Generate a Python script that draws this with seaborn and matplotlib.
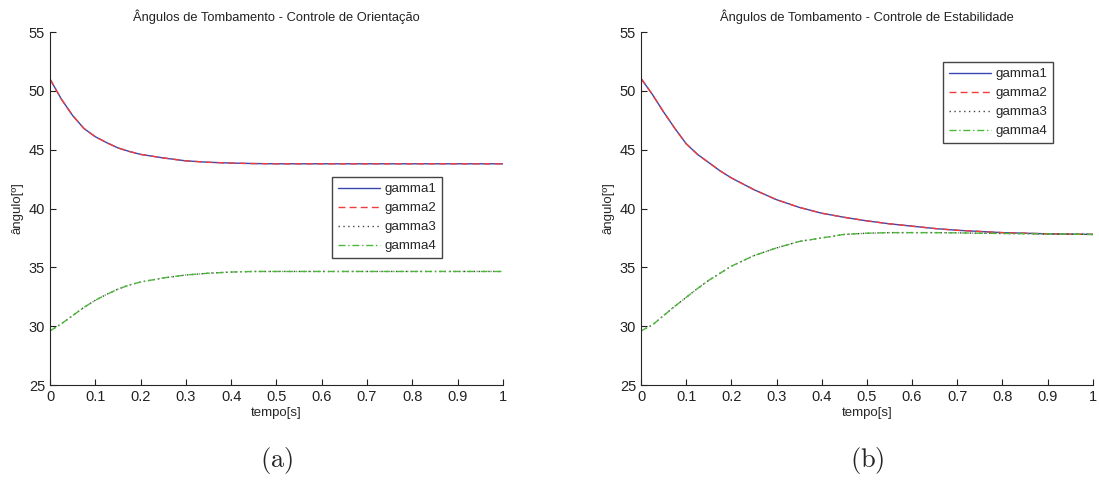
# Ângulos de tombamento - controle de orientação x estabilidade
import seaborn as sns
import matplotlib.pyplot as plt

tempo = [0, 0.025, 0.05, 0.075, 0.1, 0.125, 0.15, 0.175, 0.2, 0.25, 0.3,
         0.35, 0.4, 0.45, 0.5, 0.55, 0.6, 0.65, 0.7, 0.75, 0.8, 0.85, 0.9,
         0.95, 1.0]

# (a) controle de orientação
orient_g1 = [51.0, 49.3, 47.9, 46.8, 46.1, 45.6, 45.15, 44.85, 44.6, 44.3, 44.05,
             43.93, 43.86, 43.82, 43.8, 43.8, 43.8, 43.8, 43.8, 43.8, 43.8,
             43.8, 43.8, 43.8, 43.8]
orient_g2 = orient_g1
orient_g4 = [29.6, 30.2, 30.9, 31.6, 32.2, 32.7, 33.15, 33.5, 33.75, 34.1, 34.35,
             34.5, 34.6, 34.65, 34.65, 34.65, 34.65, 34.65, 34.65, 34.65, 34.65,
             34.65, 34.65, 34.65, 34.65]
orient_g3 = orient_g4

# (b) controle de estabilidade
estab_g1 = [51.05, 49.7, 48.2, 46.8, 45.5, 44.6, 43.9, 43.2, 42.6, 41.6, 40.75,
            40.1, 39.6, 39.25, 38.95, 38.7, 38.5, 38.3, 38.15, 38.05, 37.95,
            37.9, 37.85, 37.82, 37.8]
estab_g2 = estab_g1
estab_g4 = [29.6, 30.1, 30.9, 31.7, 32.45, 33.2, 33.9, 34.5, 35.1, 36.0, 36.65,
            37.2, 37.5, 37.8, 37.9, 37.95, 37.95, 37.95, 37.93, 37.9, 37.88,
            37.86, 37.84, 37.82, 37.8]
estab_g3 = estab_g4

titulos = ['Ângulos de Tombamento - Controle de Orientação',
           'Ângulos de Tombamento - Controle de Estabilidade']
legendas = ['gamma1', 'gamma2', 'gamma3', 'gamma4']
subtitulos = ['(a)', '(b)']

sns.set_style('ticks')
plt.rcParams['font.family'] = ['Liberation Sans', 'DejaVu Sans']
plt.rcParams['mathtext.fontset'] = 'cm'

fig = plt.figure(figsize=(10.99, 4.82), dpi=100)
ax1 = fig.add_axes([0.0455, 0.2012, 0.412, 0.7324])
ax2 = fig.add_axes([0.5833, 0.2012, 0.411, 0.7324])

estilos = [('#3848b0', '-'), ('#f03c3c', (0, (5, 3))),
           ('#444444', (0, (1, 2.5))), ('#4cb83a', (0, (5, 2, 1, 2)))]

dados = [(orient_g1, orient_g2, orient_g3, orient_g4),
         (estab_g1, estab_g2, estab_g3, estab_g4)]

for ax, series, tit, sub in zip([ax1, ax2], dados, titulos, subtitulos):
    for y, (cor, ls), nome in zip(series, estilos, legendas):
        sns.lineplot(x=tempo, y=y, ax=ax, color=cor, linestyle=ls,
                     linewidth=1.0, label=nome)
    ax.set_xlim(0, 1)
    ax.set_ylim(25, 55)
    ax.set_xticks([i / 10 for i in range(11)])
    ax.set_xticklabels(['0'] + [f'{i/10:.1f}' for i in range(1, 10)] + ['1'])
    ax.set_yticks(range(25, 56, 5))
    ax.tick_params(direction='in', length=4, labelsize=10.5, colors='#222222')
    ax.set_title(tit, fontsize=9.3, color='#222222', pad=8)
    ax.set_xlabel('tempo[s]', fontsize=9.5, labelpad=2)
    ax.set_ylabel('ângulo[º]', fontsize=9.5, labelpad=4)
    sns.despine(ax=ax)
    ax.text(0.5, -0.215, '$\\mathrm{' + sub + '}$', transform=ax.transAxes,
            ha='center', va='center', fontsize=19)

opts = dict(loc='upper left', fontsize=9.6, fancybox=False, edgecolor='#444444',
            framealpha=1, handlelength=3.2, borderpad=0.45, labelspacing=0.5,
            handletextpad=0.3, borderaxespad=0)
ax1.legend(bbox_to_anchor=(0.622, 0.589), **opts)
ax2.legend(bbox_to_anchor=(0.668, 0.915), **opts)

plt.savefig('out.png', dpi=100)
